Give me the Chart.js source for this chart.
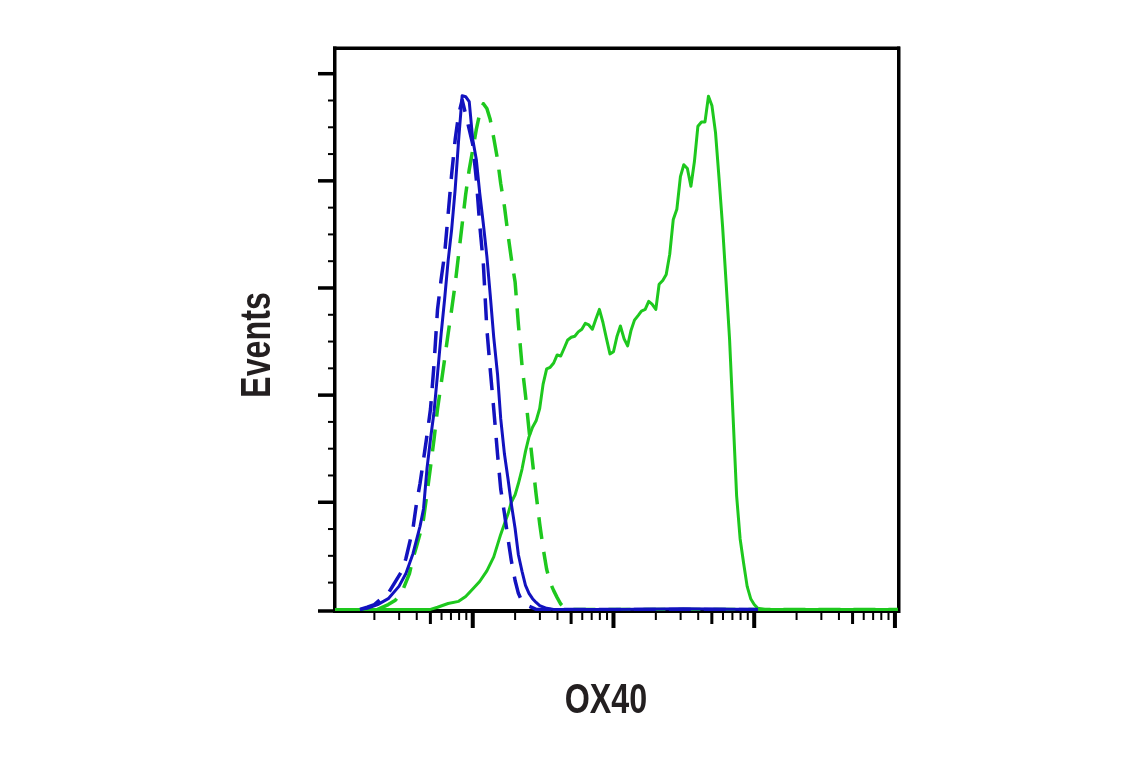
<!DOCTYPE html>
<html>
<head>
<meta charset="utf-8">
<title>OX40</title>
<script src="https://cdn.jsdelivr.net/npm/chart.js@4"></script>
<style>
  html, body { margin: 0; padding: 0; background: #fff; }
  canvas { display: block; }
</style>
</head>
<body>
<canvas id="histChart" width="1141" height="768"></canvas>
<script>
// x = OX40 fluorescence (log), y = events
const blueSolidX = [15.8, 17.8, 21.1, 25.1, 29.9, 33.5, 37.6, 42.2, 44.7, 47.3, 50.1, 53.1, 56.2, 59.6, 63.1, 66.8, 70.8, 75.0, 79.4, 84.1, 89.1, 94.4, 100, 106, 112, 119, 126, 133, 141, 150, 158, 168, 178, 188, 200, 211, 224, 237, 251, 266, 282, 299, 335, 376, 1000, 3160, 10600];
const blueSolidY = [0, 2, 9, 20, 43, 67, 104, 155, 188, 263, 318, 369, 439, 514, 579, 650, 709, 784, 877, 959, 957, 948, 877, 840, 778, 719, 659, 588, 508, 439, 356, 290, 244, 197, 151, 102, 71, 45, 30, 20, 13, 7, 2, 0, 0, 1, 0];

const blueDashX = [15.8, 17.8, 20.0, 22.4, 25.1, 28.2, 31.6, 33.5, 35.5, 37.6, 39.8, 42.2, 44.7, 47.3, 50.1, 53.1, 56.2, 59.6, 63.1, 66.8, 70.8, 75.0, 79.4, 84.1, 89.1, 94.4, 100, 106, 112, 119, 126, 133, 141, 150, 158, 168, 178, 188, 200, 211, 224, 251, 282, 1780, 10600];
const blueDashY = [0, 4, 9, 20, 30, 52, 73, 95, 123, 151, 197, 235, 280, 325, 374, 458, 560, 616, 663, 737, 812, 877, 924, 951, 924, 896, 868, 803, 719, 644, 523, 449, 374, 290, 225, 179, 132, 91, 54, 30, 15, 6, 0, 0, 0];

const greenDashX = [21.1, 25.1, 28.2, 31.6, 35.5, 37.6, 39.8, 42.2, 44.7, 47.3, 50.1, 53.1, 56.2, 59.6, 63.1, 66.8, 70.8, 75.0, 79.4, 84.1, 89.1, 94.4, 100, 106, 112, 119, 126, 133, 141, 150, 158, 168, 178, 188, 200, 211, 224, 237, 251, 266, 282, 299, 316, 335, 355, 376, 398, 422, 447, 473, 3160, 105000];
const greenDashY = [0, 9, 17, 34, 67, 95, 117, 141, 169, 216, 266, 318, 374, 421, 467, 514, 560, 607, 663, 719, 775, 821, 858, 896, 925, 944, 935, 915, 880, 840, 795, 752, 700, 655, 611, 532, 455, 400, 335, 275, 215, 160, 115, 75, 50, 35, 22, 10, 3, 0, 0, 0];

const greenSolidX = [10.5, 50.1, 56.2, 66.8, 79.4, 89.1, 100, 112, 126, 141, 158, 168, 178, 188, 200, 211, 224, 237, 251, 266, 282, 299, 316, 335, 355, 376, 398, 422, 447, 473, 501, 531, 562, 596, 631, 668, 708, 750, 794, 841, 891, 944, 1000, 1060, 1120, 1190, 1260, 1330, 1410, 1500, 1580, 1680, 1780, 1880, 2000, 2110, 2240, 2370, 2510, 2660, 2820, 2990, 3160, 3350, 3550, 3760, 3980, 4220, 4470, 4730, 5010, 5310, 5620, 5960, 6310, 6680, 7080, 7500, 7940, 8410, 8910, 9440, 10000, 10600, 11900, 105000];
const greenSolidY = [0, 0, 4, 11, 15, 24, 38, 52, 72, 98, 140, 160, 178, 200, 214, 235, 262, 295, 322, 340, 352, 375, 420, 449, 452, 460, 475, 473, 488, 503, 508, 510, 518, 523, 534, 531, 523, 542, 560, 536, 506, 477, 481, 510, 529, 505, 492, 520, 540, 549, 557, 560, 575, 570, 560, 607, 614, 625, 663, 728, 747, 808, 830, 823, 790, 836, 902, 910, 910, 958, 940, 890, 806, 715, 611, 505, 359, 212, 132, 86, 43, 20, 9, 2, 0, 0];

// axis ticks (no labels in the original)
const xMajorTicks = [100, 1000, 10000, 100000];
const xMidTicks = [50, 500, 5000, 50000];
const xMinorTicks = [20, 30, 40, 60, 70, 80, 90, 200, 300, 400, 600, 700, 800, 900,
  2000, 3000, 4000, 6000, 7000, 8000, 9000, 20000, 30000, 40000, 60000, 70000, 80000, 90000];
const yMajorTicks = [0, 200, 400, 600, 800, 1000];
const yMinorTicks = [50, 100, 150, 250, 300, 350, 450, 500, 550, 650, 700, 750, 850, 900, 950];

const xTitle = 'OX40';
const yTitle = 'Events';

const BLUE = '#1212bf';
const GREEN = '#1ec81e';
const INK = '#231f20';

function toPoints(xs, ys) {
    return xs.map((x, i) => ({ x: x, y: ys[i] }));
}

const frameAndTicks = {
    id: 'frameAndTicks',
    beforeDatasetsDraw(chart) {
        const { ctx, chartArea: a, scales: { x, y } } = chart;
        ctx.save();
        ctx.fillStyle = '#000';
        // box round the plot
        ctx.fillRect(a.left - 2, a.top - 1.5, 3.5, a.bottom - a.top + 3.5);
        ctx.fillRect(a.left - 2, a.top - 1.5, a.right - a.left + 3.5, 3.5);
        ctx.fillRect(a.right - 1.5, a.top - 1.5, 3.5, a.bottom - a.top + 3.5);
        ctx.fillRect(a.left - 2, a.bottom - 2, a.right - a.left + 3.5, 4);

        // x ticks hang below the axis
        const xTick = (v, len, w) => {
            const px = x.getPixelForValue(v);
            ctx.fillRect(px - w / 2, a.bottom + 2, w, len);
        };
        xMinorTicks.forEach(v => xTick(v, 7, 2));
        xMidTicks.forEach(v => xTick(v, 11, 3));
        xMajorTicks.forEach(v => xTick(v, 15, 4));

        // y ticks stick out to the left
        const yTick = (v, len, h) => {
            const py = v === 0 ? a.bottom : y.getPixelForValue(v);
            ctx.fillRect(a.left - 2 - len, py - h / 2, len, h);
        };
        yMinorTicks.forEach(v => yTick(v, 5, 2));
        yMajorTicks.forEach(v => yTick(v, 15, 3.5));
        ctx.restore();
    },
    afterDraw(chart) {
        const { ctx } = chart;
        ctx.save();
        ctx.fillStyle = INK;
        ctx.font = "bold 43px 'Liberation Sans', Arial, sans-serif";
        ctx.textAlign = 'center';
        ctx.textBaseline = 'alphabetic';
        // condensed look: squeeze along the text direction
        ctx.save();
        ctx.translate(606, 713);
        ctx.scale(0.75, 1);
        ctx.fillText(xTitle, 0, 0);
        ctx.restore();

        ctx.translate(270, 345);
        ctx.rotate(-Math.PI / 2);
        ctx.scale(0.75, 1);
        ctx.fillText(yTitle, 0, 0);
        ctx.restore();
    }
};

const ctx = document.getElementById('histChart').getContext('2d');
new Chart(ctx, {
    type: 'line',
    data: {
        datasets: [
            {
                label: 'blue solid',
                data: toPoints(blueSolidX, blueSolidY),
                borderColor: BLUE,
                borderWidth: 3
            },
            {
                label: 'blue dashed',
                data: toPoints(blueDashX, blueDashY),
                borderColor: BLUE,
                borderWidth: 3.5,
                borderDash: [22, 13]
            },
            {
                label: 'green dashed',
                data: toPoints(greenDashX, greenDashY),
                borderColor: GREEN,
                borderWidth: 3.5,
                borderDash: [22, 13]
            },
            {
                label: 'green solid',
                data: toPoints(greenSolidX, greenSolidY),
                borderColor: GREEN,
                borderWidth: 3
            }
        ]
    },
    options: {
        responsive: false,
        animation: false,
        devicePixelRatio: 1,
        layout: {
            padding: { left: 335, top: 48, right: 242.5, bottom: 157 }
        },
        elements: {
            point: { radius: 0 },
            line: { tension: 0, fill: false, borderJoinStyle: 'round', borderCapStyle: 'butt' }
        },
        plugins: {
            legend: { display: false },
            tooltip: { enabled: false }
        },
        scales: {
            x: { type: 'logarithmic', display: false, min: 10.5, max: 106000 },
            y: { type: 'linear', display: false, min: -3, max: 1048 }
        }
    },
    plugins: [frameAndTicks]
});
</script>
</body>
</html>
